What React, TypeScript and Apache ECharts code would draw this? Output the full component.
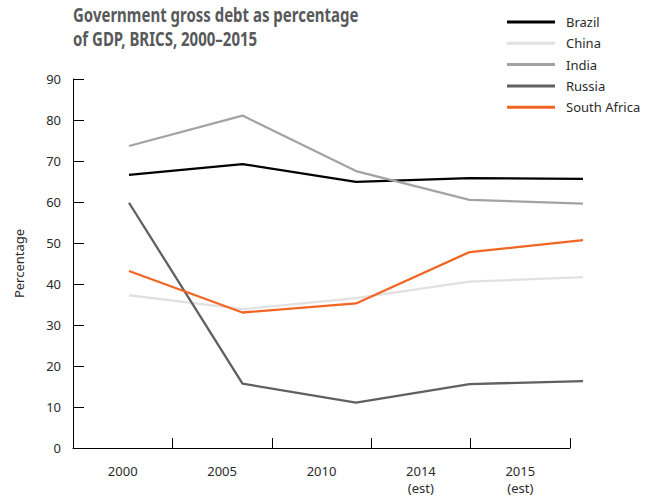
import React, { useEffect, useRef } from "react";
import * as echarts from "echarts";

const years = ["2000", "2005", "2010", "2014\n(est)", "2015\n(est)"];
const brazil = [66.7, 69.3, 65.0, 65.9, 65.7];
const china = [37.4, 34.0, 36.7, 40.7, 41.8];
const india = [73.7, 81.1, 67.6, 60.6, 59.7];
const russia = [59.9, 15.9, 11.3, 15.8, 16.5];
const southAfrica = [43.3, 33.2, 35.4, 47.9, 50.8];
const yTicks = { min: 0, max: 90, interval: 10 };
const titleLines = ["Government gross debt as percentage", "of GDP, BRICS, 2000–2015"];

const seriesDefs = [
  { name: "Brazil", data: brazil, color: "#000000" },
  { name: "China", data: china, color: "#e1e1e1" },
  { name: "India", data: india, color: "#a3a3a3" },
  { name: "Russia", data: russia, color: "#606060" },
  { name: "South Africa", data: southAfrica, color: "#f26522" },
];

const FONT = "'Noto Sans', sans-serif";

export default function App() {
  const ref = useRef<HTMLDivElement>(null);
  useEffect(() => {
    if (!ref.current) return;
    const chart = echarts.init(ref.current, undefined, { renderer: "svg" });
    chart.setOption({
      animation: false,
      backgroundColor: "#ffffff",
      textStyle: { fontFamily: FONT },
      graphic: titleLines.map((t, i) => ({
        type: "text",
        x: 73,
        y: 14 + i * 24,
        scaleX: 0.75,
        style: {
          text: t,
          fontFamily: FONT,
          fontSize: 20,
          fontWeight: "bold",
          fill: "#58595b",
          align: "left",
          verticalAlign: "middle",
        },
      })),
      legend: {
        orient: "vertical",
        left: 507,
        top: 14,
        padding: 0,
        itemWidth: 48,
        itemHeight: 3,
        itemGap: 5.3,
        icon: "rect",
        textStyle: {
          fontFamily: FONT,
          fontSize: 13,
          color: "#2b2b2b",
          lineHeight: 16,
          padding: [0, 0, 0, 6],
        },
        data: seriesDefs.map((s) => s.name),
      },
      grid: [
        { left: 73, right: 83, top: 79, bottom: 47, containLabel: false },
        { left: 129, width: 454, top: 79, bottom: 47, containLabel: false },
      ],
      xAxis: [
        {
          type: "category",
          gridIndex: 0,
          data: years,
          boundaryGap: true,
          axisLine: { show: true, lineStyle: { color: "#000", width: 1 } },
          axisTick: {
            show: true,
            inside: true,
            interval: 0,
            length: 10,
            lineStyle: { color: "#000", width: 1 },
          },
          axisLabel: {
            interval: 0,
            margin: 14,
            fontFamily: FONT,
            fontSize: 13,
            color: "#2b2b2b",
            lineHeight: 17,
            verticalAlign: "top",
          },
          splitLine: { show: false },
        },
        {
          type: "value",
          gridIndex: 1,
          min: 0,
          max: 4,
          show: false,
          splitLine: { show: false },
        },
      ],
      yAxis: [
        {
          type: "value",
          gridIndex: 0,
          min: yTicks.min,
          max: yTicks.max,
          interval: yTicks.interval,
          name: "Percentage",
          nameLocation: "middle",
          nameGap: 48,
          nameRotate: 90,
          nameTextStyle: { fontFamily: FONT, fontSize: 13, color: "#2b2b2b" },
          axisLine: { show: true, onZero: false, lineStyle: { color: "#000", width: 1 } },
          axisTick: { show: true, inside: true, length: 11, lineStyle: { color: "#000" } },
          axisLabel: { margin: 12, fontFamily: FONT, fontSize: 13, color: "#2b2b2b" },
          splitLine: { show: false },
        },
        {
          type: "value",
          gridIndex: 1,
          min: yTicks.min,
          max: yTicks.max,
          interval: yTicks.interval,
          show: false,
          splitLine: { show: false },
        },
      ],
      series: seriesDefs.map((s) => ({
        name: s.name,
        type: "line",
        xAxisIndex: 1,
        yAxisIndex: 1,
        data: s.data.map((v, i) => [i, v]),
        clip: false,
        showSymbol: false,
        symbol: "none",
        color: s.color,
        lineStyle: { color: s.color, width: 2.3 },
      })),
    });
    return () => chart.dispose();
  }, []);
  return (
    <div
      ref={ref}
      style={{ position: "absolute", left: 0, top: 0, width: 653, height: 496 }}
    />
  );
}
